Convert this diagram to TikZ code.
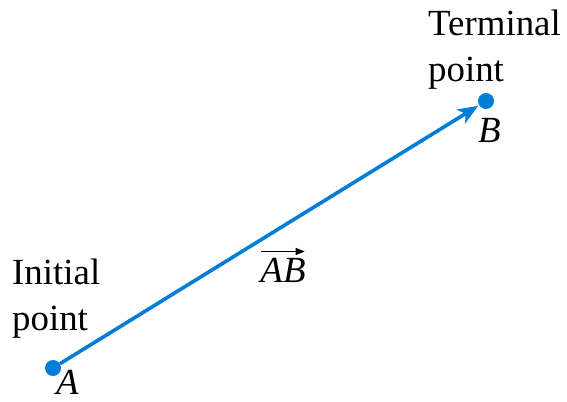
\documentclass[tikz,border=0pt]{standalone}
\usepackage{fontspec}
\setmainfont{Liberation Serif}
\usetikzlibrary{arrows.meta}
\definecolor{vecblue}{RGB}{0,125,215}
\tikzset{
  dot/.style={circle,fill=vecblue,draw=none,minimum size=16bp,inner sep=0pt},
  vec/.style={draw=vecblue,line width=3.6bp,-{Stealth[length=20bp,width=16bp,inset=5bp]},shorten >=1bp},
  lbl/.style={font=\fontsize{37}{46}\selectfont,inner sep=0pt,align=left},
  ptlbl/.style={font=\fontsize{37}{44}\selectfont\itshape,inner sep=0pt},
  overarrow/.style={line width=1.4bp,-{Triangle[length=9bp,width=7bp]}}
}
\begin{document}
\begin{tikzpicture}[x=1bp,y=-1bp]
\useasboundingbox (0,0) rectangle (567,401);
\node[dot] (A) at (53,368) {};
\node[dot] (B) at (486,101) {};
\draw[vec] (A) -- (B);
\node[ptlbl,anchor=base west] (la) at (56,394) {A};
\node[ptlbl,anchor=base west] (lb) at (478,142) {B};
\node[ptlbl,anchor=base] (lab) at (283,282) {AB};
\coordinate (arrs) at ([xshift=1bp,yshift=6bp]lab.north west);
\coordinate (arre) at ([xshift=-1bp,yshift=6bp]lab.north east);
\draw[overarrow] (arrs) -- (arre);
\node[lbl,anchor=north west] (ini) at (12,259) {Initial\\point};
\node[lbl,anchor=north west] (ter) at (428,10) {Terminal\\point};
\end{tikzpicture}
\end{document}
